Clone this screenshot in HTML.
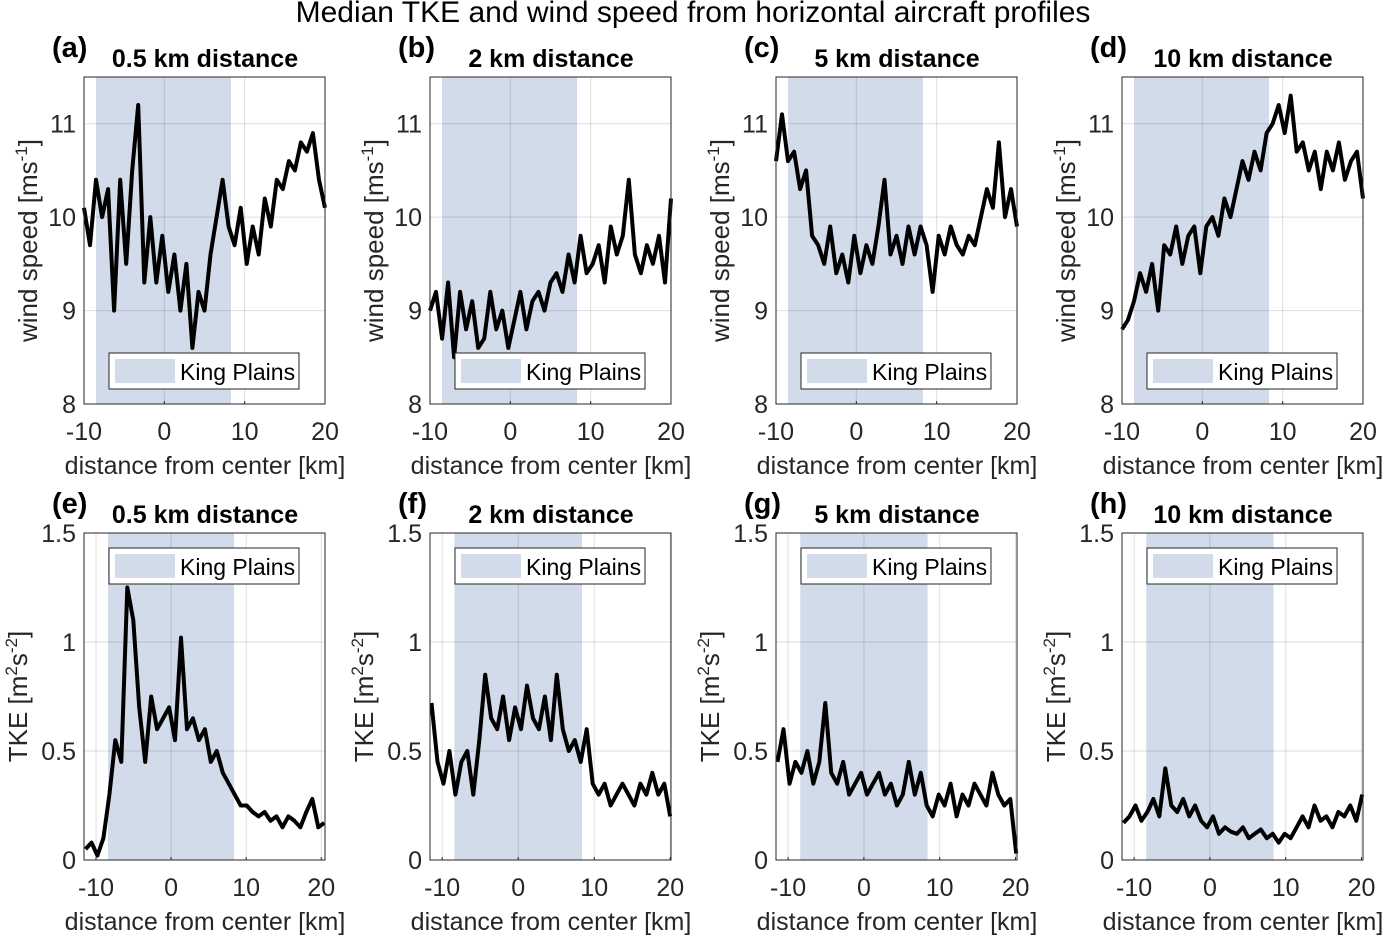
<!DOCTYPE html>
<html><head><meta charset="utf-8"><style>
body{margin:0;background:#fff;}
svg text{font-family:"Liberation Sans",Arial,sans-serif;}
</style></head><body>
<svg id="fig" width="1385" height="936" xmlns="http://www.w3.org/2000/svg">
<text x="693" y="22" font-size="30" text-anchor="middle" fill="#000">Median TKE and wind speed from horizontal aircraft profiles</text>
</svg>
<script>
const labelsTop = ['(a)','(b)','(c)','(d)'];
const labelsBot = ['(e)','(f)','(g)','(h)'];
const distances = ['0.5 km distance','2 km distance','5 km distance','10 km distance'];
const windTicks = [8,9,10,11];
const tkeTicks = [0,0.5,1,1.5];
const xTicks = [-10,0,10,20];
const shadeWind = [-8.5, 8.3];
const shadeTke = [-8.4, 8.4];
const tkeXmax = [20.5, 20.1, 20.2, 20.2];
const windA = [10.1,9.7,10.4,10.0,10.3,9.0,10.4,9.5,10.5,11.2,9.3,10.0,9.3,9.8,9.2,9.6,9.0,9.5,8.6,9.2,9.0,9.6,10.0,10.4,9.9,9.7,10.1,9.5,9.9,9.6,10.2,9.9,10.4,10.3,10.6,10.5,10.8,10.7,10.9,10.4,10.1];
const windB = [9.0,9.2,8.7,9.3,8.5,9.2,8.8,9.1,8.6,8.7,9.2,8.8,9.0,8.6,8.9,9.2,8.8,9.1,9.2,9.0,9.3,9.4,9.2,9.6,9.3,9.8,9.4,9.5,9.7,9.3,9.9,9.6,9.8,10.4,9.6,9.4,9.7,9.5,9.8,9.3,10.2];
const windC = [10.6,11.1,10.6,10.7,10.3,10.5,9.8,9.7,9.5,9.9,9.4,9.6,9.3,9.8,9.4,9.7,9.5,9.9,10.4,9.6,9.8,9.5,9.9,9.6,9.9,9.7,9.2,9.8,9.6,9.9,9.7,9.6,9.8,9.7,10.0,10.3,10.1,10.8,10.0,10.3,9.9];
const windD = [8.8,8.9,9.1,9.4,9.2,9.5,9.0,9.7,9.6,9.9,9.5,9.8,9.9,9.4,9.9,10.0,9.8,10.2,10.0,10.3,10.6,10.4,10.7,10.5,10.9,11.0,11.2,10.9,11.3,10.7,10.8,10.5,10.7,10.3,10.7,10.5,10.8,10.4,10.6,10.7,10.2];
const tkeE = [0.05,0.08,0.02,0.1,0.3,0.55,0.45,1.25,1.1,0.7,0.45,0.75,0.6,0.65,0.7,0.55,1.02,0.6,0.65,0.55,0.6,0.45,0.5,0.4,0.35,0.3,0.25,0.25,0.22,0.2,0.22,0.18,0.2,0.15,0.2,0.18,0.15,0.22,0.28,0.15,0.17];
const tkeF = [0.72,0.45,0.35,0.5,0.3,0.45,0.5,0.3,0.55,0.85,0.65,0.6,0.75,0.55,0.7,0.6,0.8,0.65,0.6,0.75,0.55,0.85,0.6,0.5,0.55,0.45,0.6,0.35,0.3,0.35,0.25,0.3,0.35,0.3,0.25,0.35,0.3,0.4,0.3,0.35,0.2];
const tkeG = [0.45,0.6,0.35,0.45,0.4,0.5,0.35,0.45,0.72,0.4,0.35,0.45,0.3,0.35,0.4,0.3,0.35,0.4,0.3,0.35,0.25,0.3,0.45,0.3,0.4,0.25,0.2,0.3,0.25,0.35,0.2,0.3,0.25,0.35,0.3,0.25,0.4,0.3,0.25,0.28,0.03];
const tkeH = [0.17,0.2,0.25,0.18,0.22,0.28,0.2,0.42,0.25,0.22,0.28,0.2,0.25,0.18,0.15,0.2,0.12,0.15,0.13,0.12,0.15,0.1,0.12,0.14,0.1,0.12,0.08,0.12,0.1,0.15,0.2,0.15,0.25,0.18,0.2,0.15,0.22,0.2,0.25,0.18,0.3];
const windSeries = [windA,windB,windC,windD];
const tkeSeries = [tkeE,tkeF,tkeG,tkeH];

const svg = document.getElementById('fig');
const NS = 'http://www.w3.org/2000/svg';
function mk(tag, attrs, parent){const e=document.createElementNS(NS,tag);for(const k in attrs)e.setAttribute(k,attrs[k]);(parent||svg).appendChild(e);return e;}

function panel(i, row){
  const ox = 84 + i*346;
  const W = 241;
  const top = row===0 ? 77 : 533, bot = row===0 ? 404 : 860;
  const xmin = row===0 ? -10 : -11.6, xmax = row===0 ? 20 : tkeXmax[i];
  const ymin = row===0 ? 8 : 0, ymax = row===0 ? 11.5 : 1.5;
  const sx = v => ox + (v-xmin)/(xmax-xmin)*W;
  const sy = v => bot - (v-ymin)/(ymax-ymin)*(bot-top);
  const g = mk('g',{});
  
  
  const sh = row===0 ? shadeWind : shadeTke;
  const s = mk('rect',{x:sx(sh[0]),y:top,width:sx(sh[1])-sx(sh[0]),height:bot-top,fill:'#d1dbea'},g);
  
  
  xTicks.forEach(t=>{
    mk('line',{x1:sx(t),x2:sx(t),y1:top,y2:bot,stroke:'#000','stroke-opacity':0.13,'stroke-width':1},g);
    mk('line',{x1:sx(t),x2:sx(t),y1:bot,y2:bot-3,stroke:'#262626'},g);
    const tx = mk('text',{x:sx(t),y:bot+36,'font-size':25,'text-anchor':'middle',fill:'#262626'},g);
    tx.textContent=t;
    
    
  });
  const yt = row===0 ? windTicks : tkeTicks;
  yt.forEach(t=>{
    mk('line',{x1:ox,x2:ox+W,y1:sy(t),y2:sy(t),stroke:'#000','stroke-opacity':0.13},g);
    const tx = mk('text',{x:ox-8,y:sy(t)+9,'font-size':25,'text-anchor':'end',fill:'#262626'},g);
    tx.textContent=t;
    
    
  });
  const data = row===0 ? windSeries[i] : tkeSeries[i];
  const x0 = row===0 ? -10 : -11.4, x1 = row===0 ? 20 : xmax-0.1;
  const pts = data.map((v,k)=>sx(x0+k*(x1-x0)/(data.length-1)).toFixed(1)+','+sy(v).toFixed(1)).join(' ');
  const pl = mk('polyline',{points:pts,fill:'none',stroke:'#000','stroke-width':4,'stroke-linejoin':'round'},g);
  
  
  mk('rect',{x:ox,y:top,width:W,height:bot-top,fill:'none',stroke:'#262626','stroke-width':1},g);
  const ly = row===0 ? 353 : 548;
  const lg = mk('g',{},g);
  
  
  mk('rect',{x:ox+25,y:ly,width:190,height:36,fill:'#fff',stroke:'#262626'},lg);
  mk('rect',{x:ox+31,y:ly+6,width:60,height:24,fill:'#d1dbea'},lg);
  const lt = mk('text',{x:ox+96,y:ly+27,'font-size':23,fill:'#000'},lg);
  lt.textContent='King Plains';
  const ty = row===0 ? 57 : 513;
  const pL = mk('text',{x:ox-32,y:ty,'font-size':29,'font-weight':'bold',fill:'#000'},g);
  pL.textContent = row===0 ? labelsTop[i] : labelsBot[i];
  
  
  const pt = mk('text',{x:ox+121,y:ty+10,'font-size':25,'font-weight':'bold','text-anchor':'middle',fill:'#000'},g);
  pt.textContent = distances[i];
  
  
  const xl = mk('text',{x:ox+121,y:bot+70,'font-size':25,'text-anchor':'middle',fill:'#262626'},g);
  xl.textContent='distance from center [km]';
  
  
  const cy = (top+bot)/2;
  const yl = mk('text',{x:0,y:0,'font-size':26,'text-anchor':'middle',fill:'#262626',transform:`translate(${ox-47},${cy}) rotate(-90)`},g);
  
  
  if(row===0){
    yl.innerHTML='wind speed [ms<tspan dy="-10" font-size="17">-1</tspan><tspan dy="10">]</tspan>';
  } else {
    yl.setAttribute('transform',`translate(${ox-57},${cy}) rotate(-90)`);
    yl.innerHTML='TKE [m<tspan dy="-10" font-size="17">2</tspan><tspan dy="10">s</tspan><tspan dy="-10" font-size="17">-2</tspan><tspan dy="10">]</tspan>';
  }
}
for(let i=0;i<4;i++){panel(i,0);panel(i,1);}
</script>
</body></html>
